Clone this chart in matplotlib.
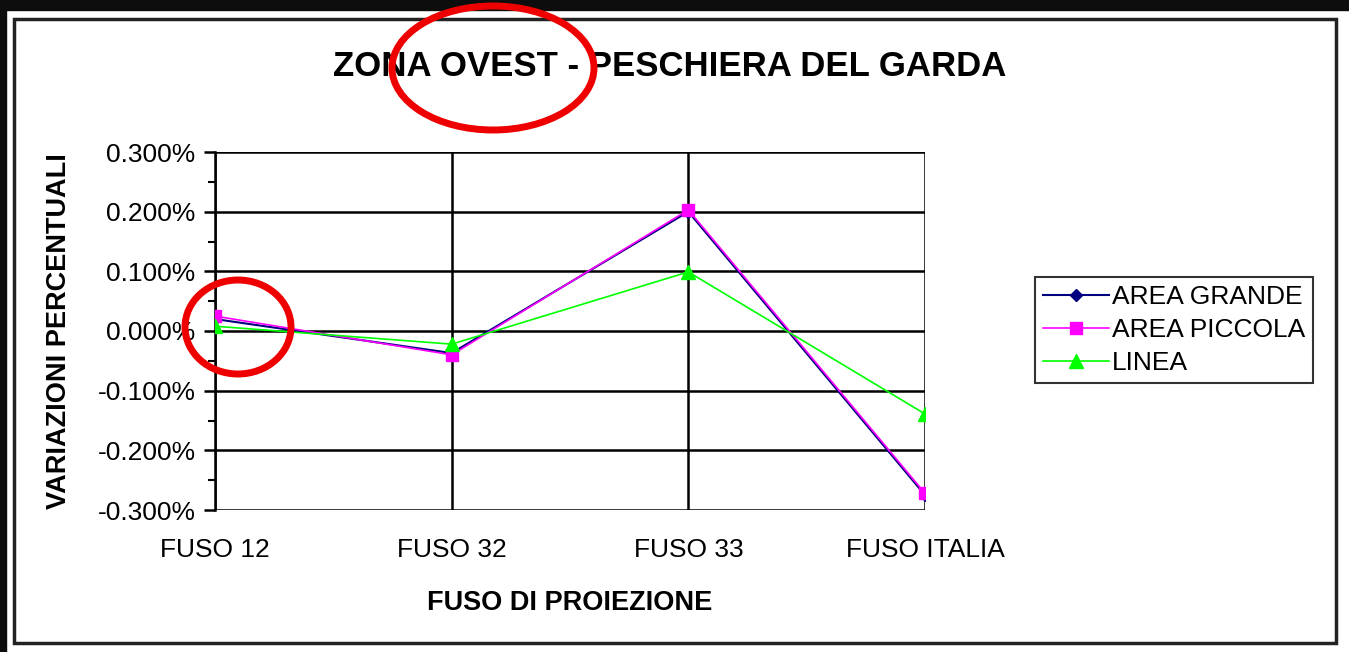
import matplotlib.pyplot as plt
from matplotlib.patches import Ellipse, Rectangle
from matplotlib.ticker import MultipleLocator

plt.rcParams['font.family'] = ['Liberation Sans', 'DejaVu Sans']

# data (percent)
categories = ['FUSO 12', 'FUSO 32', 'FUSO 33', 'FUSO ITALIA']
area_grande = [0.020, -0.037, 0.200, -0.275]
area_piccola = [0.025, -0.040, 0.203, -0.272]
linea = [0.008, -0.022, 0.099, -0.139]
yticks = [-0.3, -0.2, -0.1, 0.0, 0.1, 0.2, 0.3]

W, H = 1349, 652
fig = plt.figure(figsize=(W/100, H/100), dpi=100)

# background frame overlay
bg = fig.add_axes([0, 0, 1, 1])
bg.set_xlim(0, W)
bg.set_ylim(H, 0)
bg.axis('off')
bg.add_patch(Rectangle((0, 0), W, 10, color='#0d0d0d'))
bg.add_patch(Rectangle((0, 0), 6, H, color='#0d0d0d'))
bg.add_patch(Rectangle((14, 19), 1322, 624, fill=False, ec='#222222', lw=2.5))

# plot area in pixels
L, R, T, B = 215, 925, 152, 510
ax = fig.add_axes([L/W, 1-B/H, (R-L)/W, (B-T)/H])
x = range(len(categories))
ax.plot(x, area_grande, color='#000080', marker='D', ms=6, lw=1.5, label='AREA GRANDE', zorder=3)
ax.plot(x, area_piccola, color='#ff00ff', marker='s', ms=9, lw=1.2, label='AREA PICCOLA', zorder=4)
ax.plot(x, linea, color='#00ff00', marker='^', ms=10, lw=1.2, label='LINEA', zorder=5)

ax.set_xlim(0, 3)
ax.set_ylim(-0.3, 0.3)
ax.set_xticks(list(x))
ax.set_xticklabels(categories, fontsize=19)
ax.set_yticks(yticks)
ax.set_yticklabels(['%.3f%%' % v for v in yticks], fontsize=19)
ax.yaxis.set_minor_locator(MultipleLocator(0.05))
ax.grid(True, which='major', color='black', lw=1.8)
for s in ax.spines.values():
    s.set_visible(False)
ax.spines['left'].set_visible(True)
ax.spines['left'].set_linewidth(1.8)
ax.tick_params(axis='y', which='major', length=8, width=1.8, pad=6)
ax.tick_params(axis='y', which='minor', length=5, width=1.5)
ax.tick_params(axis='x', length=0, pad=20)
ax.set_xlabel('FUSO DI PROIEZIONE', fontsize=19.5, fontweight='bold', labelpad=20)
ax.set_ylabel('VARIAZIONI PERCENTUALI', fontsize=19.5, fontweight='bold', labelpad=18)

fig.text(670/W, 1-66/H, 'ZONA OVEST - PESCHIERA DEL GARDA', fontsize=25,
         fontweight='bold', ha='center', va='center')

leg = ax.legend(loc='center left', bbox_to_anchor=((1035-L)/(R-L), (B-330)/(B-T)),
                fontsize=19, frameon=True, fancybox=False, edgecolor='black',
                borderpad=0.3, handlelength=2.5, labelspacing=0.35, handletextpad=0.1,
                borderaxespad=0)
leg.get_frame().set_linewidth(1.5)

# red annotation ellipses
bg.add_patch(Ellipse((493, 68), 202, 124, fill=False, ec='#ee0000', lw=5, zorder=10))
bg.add_patch(Ellipse((238, 327), 106, 94, fill=False, ec='#ee0000', lw=5, zorder=10))
bg.set_zorder(10)
bg.patch.set_visible(False)

fig.savefig('out.png', dpi=100)
